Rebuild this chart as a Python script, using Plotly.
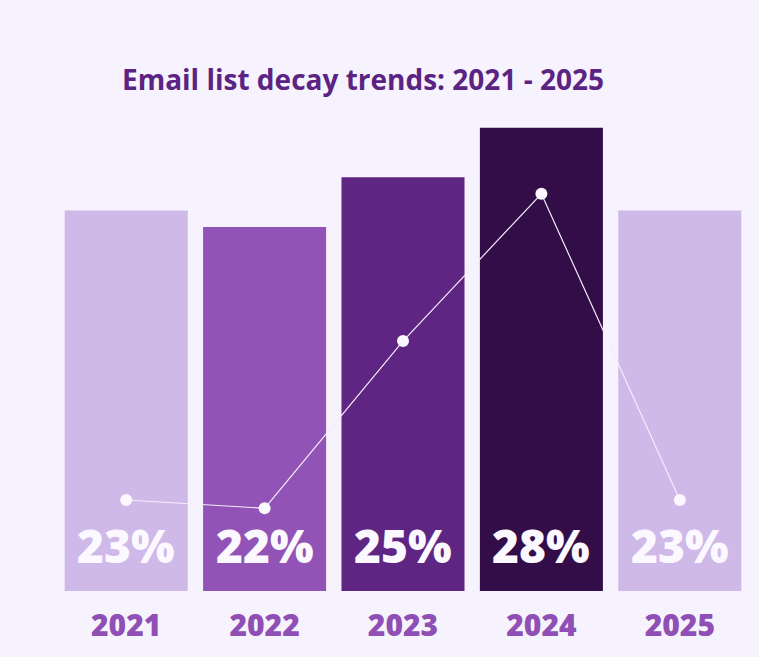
import plotly.graph_objects as go

years = ["2021", "2022", "2023", "2024", "2025"]
decay_pct = [23, 22, 25, 28, 23]
trend_line = [5.5, 5.0, 15.1, 24.0, 5.5]
bar_colors = ["#cfb9e8", "#9153b5", "#5e2583", "#330d48", "#cfb9e8"]

BG = "#f7f3fe"
FONT = "Open Sans"

idx = list(range(len(years)))

fig = go.Figure()
fig.add_trace(go.Bar(
    x=idx, y=decay_pct,
    marker=dict(color=bar_colors, line=dict(width=0)),
    hoverinfo="skip",
))
fig.add_trace(go.Scatter(
    x=idx, y=trend_line, mode="lines+markers",
    line=dict(color="#f3ecfb", width=1.2),
    marker=dict(color="#fbf8ff", size=12),
    hoverinfo="skip",
))

for i, v in zip(idx, decay_pct):
    fig.add_annotation(
        x=i, y=0, yref="y", xref="x",
        text=f"{v}%", showarrow=False,
        yanchor="middle", yshift=46,
        font=dict(family=FONT, size=46, color="#fbf8ff", weight=800),
    )

fig.update_layout(
    width=759, height=657,
    margin=dict(l=57, r=10, t=100, b=66),
    paper_bgcolor=BG, plot_bgcolor=BG,
    showlegend=False,
    bargap=0.111,
    title=dict(
        text="Email list decay trends: 2021 - 2025",
        x=363 / 759, xref="container", xanchor="center",
        y=1 - 80 / 657, yref="container", yanchor="middle",
        font=dict(family=FONT, size=28, color="#5b2483", weight=700),
    ),
    xaxis=dict(
        range=[-0.5, 4.5],
        tickmode="array", tickvals=idx, ticktext=years,
        ticklabelstandoff=14,
        showgrid=False, zeroline=False, showline=False, ticks="",
        tickfont=dict(family=FONT, size=30, color="#8f4fb5", weight=800),
    ),
    yaxis=dict(
        range=[0, 29.67], visible=False, showgrid=False, zeroline=False,
    ),
)

fig.write_html("out.html")
